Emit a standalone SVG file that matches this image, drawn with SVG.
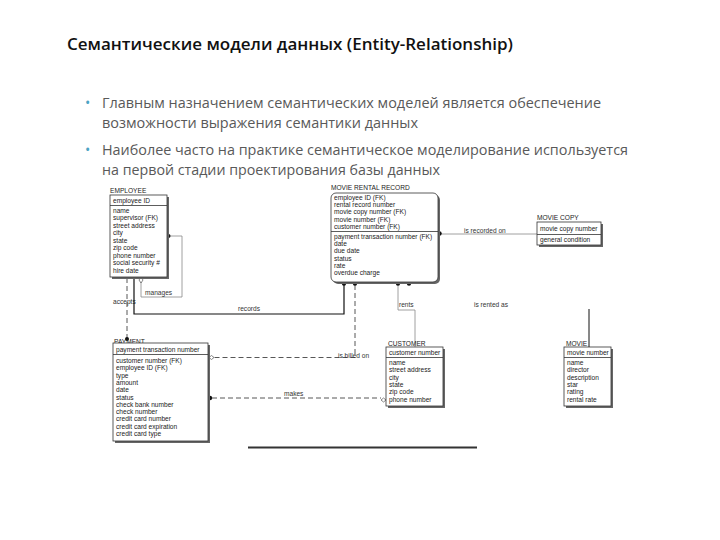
<svg xmlns="http://www.w3.org/2000/svg" width="720" height="540" viewBox="0 0 720 540">
<defs>
<style>
.title{font-family:"Open Sans","Liberation Sans",sans-serif;font-weight:600;font-size:17px;fill:#111}
.body{font-family:"Open Sans","Liberation Sans",sans-serif;font-size:14.5px;fill:#595959}
.bul{font-family:"Open Sans","Liberation Sans",sans-serif;font-size:14px;fill:#4aa3c4}
.er{font-family:"Liberation Sans",Arial,sans-serif;font-size:6.6px;fill:#222}
.lbl{font-family:"Liberation Sans",Arial,sans-serif;font-size:6.6px;fill:#333}
.box{fill:#fff;stroke:#333;stroke-width:0.8}
.shadow{fill:#666}
.sep{stroke:#333;stroke-width:0.8}
.thin{fill:none;stroke:#888;stroke-width:0.8}
.solid{fill:none;stroke:#111;stroke-width:1.2}
.dash{fill:none;stroke:#444;stroke-width:0.9;stroke-dasharray:5 3}
.dot{fill:#111}
.hollow{fill:#fff;stroke:#555;stroke-width:0.7}
</style>
</defs>
<rect width="720" height="540" fill="#fff"/>
<text class="title" x="67" y="50">Семантические модели данных (Entity-Relationship)</text>
<text class="bul" x="85" y="108">•</text>
<text class="body" x="102" y="108" textLength="499" lengthAdjust="spacingAndGlyphs">Главным назначением семантических моделей является обеспечение</text>
<text class="body" x="102" y="128" textLength="316" lengthAdjust="spacingAndGlyphs">возможности выражения семантики данных</text>
<text class="bul" x="85" y="155">•</text>
<text class="body" x="102" y="155" textLength="526" lengthAdjust="spacingAndGlyphs">Наиболее часто на практике семантическое моделирование используется</text>
<text class="body" x="102" y="175" textLength="338" lengthAdjust="spacingAndGlyphs">на первой стадии проектирования базы данных</text>

<g id="connectors">
<path class="thin" d="M141,279 V297 H182 V236 H170"/>
<path class="hollow" d="M141,277 l2,3 l-2,3 l-2,-3 z"/>
<circle class="dot" cx="168.5" cy="236" r="2"/>
<text class="lbl" x="145" y="295">manages</text>
<path class="dash" d="M127,278 V338"/>
<circle class="dot" cx="127" cy="339" r="2"/>
<text class="lbl" x="113" y="304">accepts</text>
<path class="solid" d="M134,278 V314 H344 V285"/>
<circle class="dot" cx="344" cy="283.5" r="2.2"/>
<text class="lbl" x="238" y="311">records</text>
<path class="dash" d="M355,285 V357.5 H213"/>
<circle class="dot" cx="355" cy="283.5" r="2.2"/>
<path class="hollow" d="M209,357.5 l2.5,-2 l2.5,2 l-2.5,2 z"/>
<text class="lbl" x="338" y="358">is billed on</text>
<path class="thin" d="M398,285 V310 H415 V347"/>
<circle class="dot" cx="398" cy="283.5" r="2.2"/>
<text class="lbl" x="399" y="307">rents</text>
<circle class="dot" cx="409" cy="283.5" r="2.2"/>
<path class="thin" d="M441,234 H537"/>
<circle class="dot" cx="439.5" cy="233.5" r="2.2"/>
<text class="lbl" x="464" y="233">is recorded on</text>
<path class="solid" d="M589,309 V347" style="stroke-width:1"/>
<text class="lbl" x="474" y="307">is rented as</text>
<path class="dash" d="M212,398 H381"/>
<circle class="dot" cx="210" cy="398" r="2.2"/>
<path class="hollow" d="M381,400 l2.5,-2 l2.5,2 l-2.5,2 z"/>
<text class="lbl" x="284" y="396">makes</text>
<path d="M248,447.5 H477" stroke="#333" stroke-width="2.2"/>
</g>

<g id="employee">
<text class="er" x="110" y="193">EMPLOYEE</text>
<rect class="shadow" x="112" y="197" width="57" height="82"/>
<rect class="box" x="110" y="195" width="57" height="82"/>
<text class="er" x="113" y="202.5">employee ID</text>
<line class="sep" x1="110" y1="205.5" x2="167" y2="205.5"/>
<text class="er" x="113" y="212.5">name</text>
<text class="er" x="113" y="220">supervisor (FK)</text>
<text class="er" x="113" y="227.5">street address</text>
<text class="er" x="113" y="235">city</text>
<text class="er" x="113" y="242.5">state</text>
<text class="er" x="113" y="250">zip code</text>
<text class="er" x="113" y="257.5">phone number</text>
<text class="er" x="113" y="265">social security #</text>
<text class="er" x="113" y="272.5">hire date</text>
</g>

<g id="movie-rental-record">
<text class="er" x="331" y="190">MOVIE RENTAL RECORD</text>
<rect class="shadow" x="333" y="195" width="107" height="89" rx="5"/>
<rect class="box" x="331" y="193" width="107" height="89" rx="5"/>
<text class="er" x="334" y="200">employee ID (FK)</text>
<text class="er" x="334" y="207.2">rental record number</text>
<text class="er" x="334" y="214.4">movie copy number (FK)</text>
<text class="er" x="334" y="221.6">movie number (FK)</text>
<text class="er" x="334" y="228.8">customer number (FK)</text>
<line class="sep" x1="331" y1="231.5" x2="438" y2="231.5"/>
<text class="er" x="334" y="239">payment transaction number (FK)</text>
<text class="er" x="334" y="246.2">date</text>
<text class="er" x="334" y="253.4">due date</text>
<text class="er" x="334" y="260.6">status</text>
<text class="er" x="334" y="267.8">rate</text>
<text class="er" x="334" y="275">overdue charge</text>
</g>

<g id="movie-copy">
<text class="er" x="537" y="220">MOVIE COPY</text>
<rect class="shadow" x="539" y="224" width="64" height="23"/>
<rect class="box" x="537" y="222" width="64" height="23"/>
<text class="er" x="540" y="231">movie copy number</text>
<line class="sep" x1="537" y1="234.5" x2="601" y2="234.5"/>
<text class="er" x="540" y="242">general condition</text>
</g>

<g id="payment">
<text class="er" x="114" y="344">PAYMENT</text>
<rect class="shadow" x="115" y="345" width="95" height="98"/>
<rect class="box" x="113" y="343" width="95" height="98"/>
<text class="er" x="116" y="351.5">payment transaction number</text>
<line class="sep" x1="113" y1="354.5" x2="208" y2="354.5"/>
<text class="er" x="116" y="363">customer number (FK)</text>
<text class="er" x="116" y="370.3">employee ID (FK)</text>
<text class="er" x="116" y="377.6">type</text>
<text class="er" x="116" y="384.9">amount</text>
<text class="er" x="116" y="392.2">date</text>
<text class="er" x="116" y="399.5">status</text>
<text class="er" x="116" y="406.8">check bank number</text>
<text class="er" x="116" y="414.1">check number</text>
<text class="er" x="116" y="421.4">credit card number</text>
<text class="er" x="116" y="428.7">credit card expiration</text>
<text class="er" x="116" y="436">credit card type</text>
</g>

<g id="customer">
<text class="er" x="388" y="346">CUSTOMER</text>
<rect class="shadow" x="388" y="349" width="57" height="59"/>
<rect class="box" x="386" y="347" width="57" height="59"/>
<text class="er" x="389" y="354.5">customer number</text>
<line class="sep" x1="386" y1="357.5" x2="443" y2="357.5"/>
<text class="er" x="389" y="365">name</text>
<text class="er" x="389" y="372.3">street address</text>
<text class="er" x="389" y="379.6">city</text>
<text class="er" x="389" y="386.9">state</text>
<text class="er" x="389" y="394.2">zip code</text>
<text class="er" x="389" y="401.5">phone number</text>
</g>

<g id="movie">
<text class="er" x="566" y="346">MOVIE</text>
<rect class="shadow" x="566" y="349" width="47" height="59"/>
<rect class="box" x="564" y="347" width="47" height="59"/>
<text class="er" x="567" y="354.5">movie number</text>
<line class="sep" x1="564" y1="357.5" x2="611" y2="357.5"/>
<text class="er" x="567" y="365">name</text>
<text class="er" x="567" y="372.3">director</text>
<text class="er" x="567" y="379.6">description</text>
<text class="er" x="567" y="386.9">star</text>
<text class="er" x="567" y="394.2">rating</text>
<text class="er" x="567" y="401.5">rental rate</text>
</g>
</svg>
